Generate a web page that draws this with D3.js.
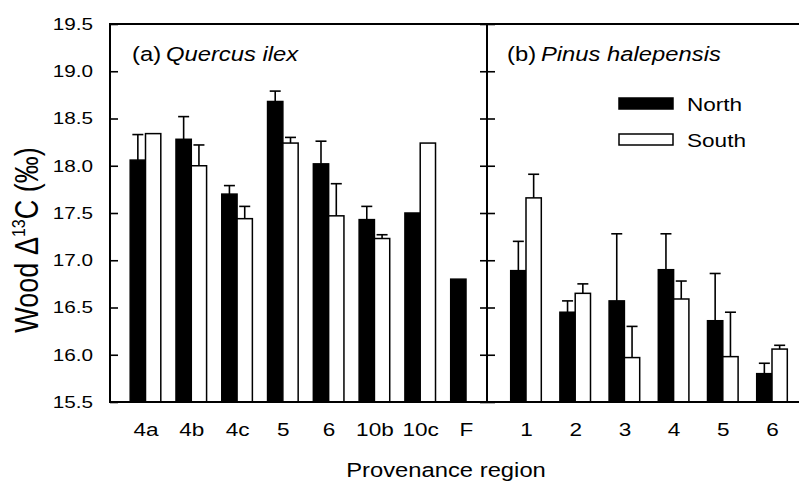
<!DOCTYPE html>
<html>
<head>
<meta charset="utf-8">
<script src="https://cdn.jsdelivr.net/npm/d3@7"></script>
<style>
  html, body { margin: 0; padding: 0; background: #fff; }
  svg { display: block; font-family: Arial, "Liberation Sans", Helvetica, sans-serif; }
</style>
</head>
<body>
<svg id="chart" width="799" height="487"></svg>
<script>
// Wood carbon isotope discrimination by provenance region
const yTicks = [15.5, 16.0, 16.5, 17.0, 17.5, 18.0, 18.5, 19.0, 19.5];

// (a) Quercus ilex
const quercusRegions = ["4a", "4b", "4c", "5", "6", "10b", "10c", "F"];
const quercusNorth    = [18.06, 18.28, 17.70, 18.68, 18.02, 17.43, 17.50, 16.80];
const quercusNorthErr = [0.27, 0.24, 0.09, 0.11, 0.24, 0.14, null, null];
const quercusSouth    = [18.34, 18.00, 17.44, 18.24, 17.47, 17.23, 18.24, null];
const quercusSouthErr = [null, 0.22, 0.13, 0.06, 0.34, 0.04, null, null];

// (b) Pinus halepensis
const pinusRegions = ["1", "2", "3", "4", "5", "6"];
const pinusNorth    = [16.89, 16.45, 16.57, 16.90, 16.36, 15.80];
const pinusNorthErr = [0.31, 0.12, 0.71, 0.38, 0.50, 0.11];
const pinusSouth    = [17.66, 16.65, 15.97, 16.59, 15.98, 16.06];
const pinusSouthErr = [0.25, 0.10, 0.33, 0.19, 0.47, 0.04];

const seriesNames = ["North", "South"];

const svg = d3.select("#chart");
const plotLeft = 110, plotTop = 24, plotBottom = 402, divider = 487, plotRight = 800;
const barW = 15.3, capW = 11;
const wide = 1.22;          // horizontal stretch used for all lettering
const FONT = "Arial, 'Liberation Sans', sans-serif";

const y = d3.scaleLinear().domain([15.5, 19.5]).range([plotBottom, plotTop]);

const xQ = d3.scalePoint().domain(quercusRegions).range([145.5, 466]);
const xP = d3.scalePoint().domain(pinusRegions).range([526, 772]);

// text placed at (x, y) and widened horizontally
function label(x, yPos, size, anchor) {
  return svg.append("text")
    .attr("transform", `translate(${x},${yPos}) scale(${wide},1)`)
    .attr("text-anchor", anchor || "start")
    .attr("font-family", FONT)
    .attr("font-size", size)
    .attr("fill", "#000");
}

function drawPanel(x, regions, north, northErr, south, southErr) {
  const rows = regions.map((r, i) => ({ r, i }));
  const g = svg.append("g");
  const bar = (vals, offset, fill) => {
    g.selectAll(null)
      .data(rows.filter(d => vals[d.i] != null))
      .enter().append("rect")
      .attr("x", d => x(d.r) + offset)
      .attr("y", d => y(vals[d.i]))
      .attr("width", barW)
      .attr("height", d => y(15.5) - y(vals[d.i]))
      .attr("fill", fill)
      .attr("stroke", "#000")
      .attr("stroke-width", 1.5);
  };
  const err = (vals, errs, offset) => {
    const data = rows.filter(d => vals[d.i] != null && errs[d.i] != null);
    const cx = d => x(d.r) + offset + barW / 2;
    g.selectAll(null).data(data).enter().append("line")
      .attr("x1", cx).attr("x2", cx)
      .attr("y1", d => y(vals[d.i])).attr("y2", d => y(vals[d.i] + errs[d.i]))
      .attr("stroke", "#000").attr("stroke-width", 1.6);
    g.selectAll(null).data(data).enter().append("line")
      .attr("x1", d => cx(d) - capW / 2).attr("x2", d => cx(d) + capW / 2)
      .attr("y1", d => y(vals[d.i] + errs[d.i])).attr("y2", d => y(vals[d.i] + errs[d.i]))
      .attr("stroke", "#000").attr("stroke-width", 1.6);
  };
  bar(north, -barW, "#000");
  bar(south, 0, "#fff");
  err(north, northErr, -barW);
  err(south, southErr, 0);

  // category labels
  const ax = svg.append("g").attr("transform", `translate(0,${plotBottom})`)
    .call(d3.axisBottom(x).tickSize(0).tickPadding(21));
  ax.select(".domain").remove();
  ax.selectAll("text")
    .attr("font-size", 18.5).attr("font-family", FONT).attr("fill", "#000")
    .attr("transform", `scale(${wide},1)`);
}

drawPanel(xQ, quercusRegions, quercusNorth, quercusNorthErr, quercusSouth, quercusSouthErr);
drawPanel(xP, pinusRegions, pinusNorth, pinusNorthErr, pinusSouth, pinusSouthErr);

// left value axis, ticks pointing inward
const yAxis = svg.append("g").attr("transform", `translate(${plotLeft},0)`)
  .call(d3.axisLeft(y).tickValues(yTicks).tickFormat(d3.format(".1f")).tickSize(0).tickPadding(17 / wide));
yAxis.select(".domain").remove();
yAxis.selectAll("text")
  .attr("font-size", 17).attr("font-family", FONT).attr("fill", "#000")
  .attr("transform", `scale(${wide},1)`);
svg.append("g").attr("transform", `translate(${plotLeft},0)`)
  .call(d3.axisRight(y).tickValues(yTicks).tickSize(8).tickFormat(""))
  .call(g => g.select(".domain").remove())
  .selectAll("line").attr("stroke-width", 1.6);

// ticks on both sides of the panel divider
svg.append("g").attr("transform", `translate(${divider},0)`)
  .call(d3.axisLeft(y).tickValues(yTicks).tickSize(7).tickFormat(""))
  .call(g => g.select(".domain").remove())
  .selectAll("line").attr("stroke-width", 1.6);
svg.append("g").attr("transform", `translate(${divider},0)`)
  .call(d3.axisRight(y).tickValues(yTicks).tickSize(8).tickFormat(""))
  .call(g => g.select(".domain").remove())
  .selectAll("line").attr("stroke-width", 1.6);

// frame and divider
svg.append("rect").attr("x", plotLeft).attr("y", plotTop)
  .attr("width", plotRight - plotLeft).attr("height", plotBottom - plotTop)
  .attr("fill", "none").attr("stroke", "#000").attr("stroke-width", 2);
svg.append("line").attr("x1", divider).attr("x2", divider).attr("y1", plotTop).attr("y2", plotBottom)
  .attr("stroke", "#000").attr("stroke-width", 2);

// panel titles
function panelTitle(xPos, tag, species) {
  const t = label(xPos, 61, 19.5);
  t.append("tspan").text(tag);
  t.append("tspan").attr("dx", 4).attr("font-style", "italic").text(species);
}
panelTitle(132, "(a)", "Quercus ilex");
panelTitle(507, "(b)", "Pinus halepensis");

// legend
seriesNames.forEach((name, i) => {
  const yy = 98 + i * 36;
  svg.append("rect").attr("x", 619).attr("y", yy).attr("width", 54).attr("height", 11)
    .attr("fill", i === 0 ? "#000" : "#fff").attr("stroke", "#000").attr("stroke-width", 1.5);
  label(687, yy + 13, 18.5).text(name);
});

// axis titles
label(446, 477, 19.5, "middle").text("Provenance region");

const yt = svg.append("text")
  .attr("transform", `translate(38,240) rotate(-90) scale(1,1.2)`)
  .attr("text-anchor", "middle").attr("font-family", FONT).attr("font-size", 27).attr("fill", "#000");
yt.append("tspan").text("Wood \u0394");
yt.append("tspan").attr("font-size", 16).attr("dy", -11).text("13");
yt.append("tspan").attr("dy", 11).text("C (\u2030)");
</script>
</body>
</html>
